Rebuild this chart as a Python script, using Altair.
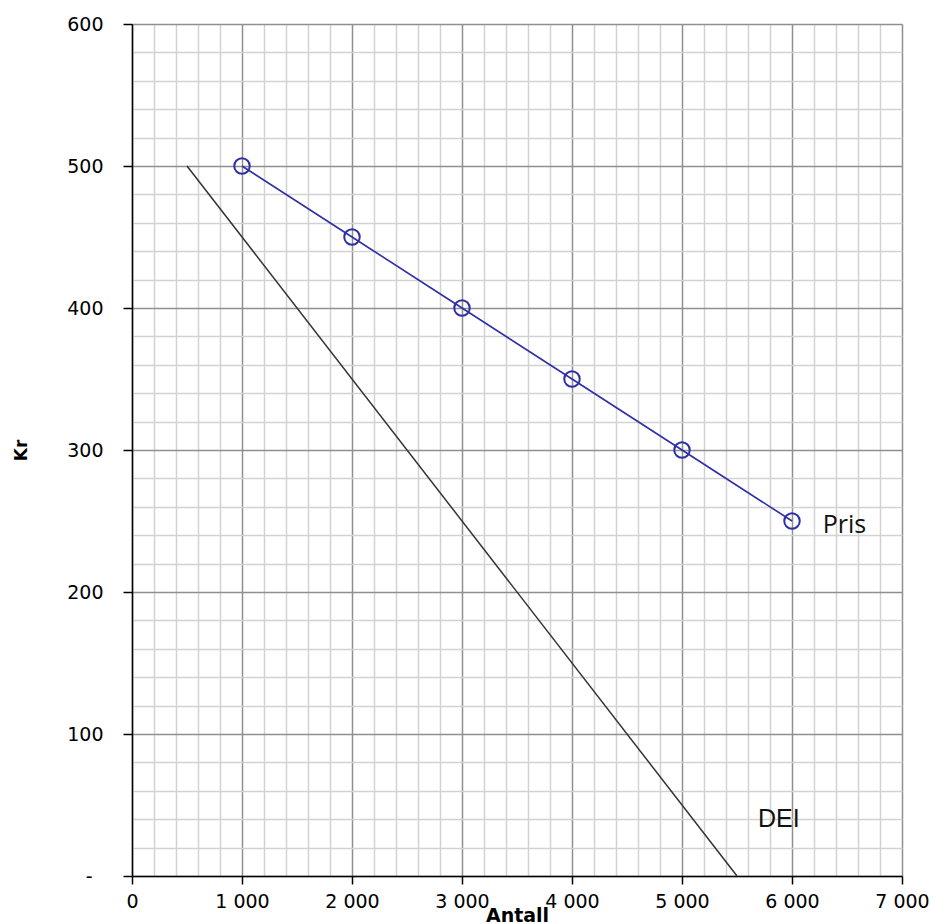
import altair as alt
import pandas as pd

# Data
pris_x = [1000, 2000, 3000, 4000, 5000, 6000]
pris_y = [500, 450, 400, 350, 300, 250]
dei_x = [500, 5500]
dei_y = [500, 0]
label_text = ["Pris", "DEI"]
label_x = [6280, 5690]
label_y = [247, 40]

x_ticks = list(range(0, 7001, 200))
y_ticks = list(range(0, 601, 20))

pris_df = pd.DataFrame({"x": pris_x, "y": pris_y})
dei_df = pd.DataFrame({"x": dei_x, "y": dei_y})
pris_lab = pd.DataFrame({"x": label_x[:1], "y": label_y[:1], "t": label_text[:1]})
dei_lab = pd.DataFrame({"x": label_x[1:], "y": label_y[1:], "t": label_text[1:]})

FONT = "DejaVu Sans"

x_axis = alt.Axis(
    values=x_ticks,
    grid=True,
    gridColor={"condition": {"test": "datum.value % 1000 === 0", "value": "#8f8f8f"}, "value": "#d2d2d2"},
    gridWidth=1.5,
    tickColor={"condition": {"test": "datum.value % 1000 === 0", "value": "#000000"}, "value": "transparent"},
    tickSize=8,
    tickWidth=1.5,
    domainColor="#000000",
    domainWidth=1.5,
    labelExpr="datum.value % 1000 === 0 ? replace(format(datum.value, ','), ',', ' ') : ''",
    labelFont=FONT,
    labelFontSize=19,
    labelColor="#000000",
    labelPadding=8,
    labelFlush=False,
    labelOverlap=False,
    title="Antall",
    titleFont=FONT,
    titleFontSize=19,
    titleFontWeight="bold",
    titleColor="#000000",
    titleBaseline="alphabetic",
    titleY=45,
)

y_axis = alt.Axis(
    values=y_ticks,
    grid=True,
    gridColor={"condition": {"test": "datum.value % 100 === 0", "value": "#8f8f8f"}, "value": "#d2d2d2"},
    gridWidth=1.5,
    tickColor={"condition": {"test": "datum.value % 100 === 0", "value": "#000000"}, "value": "transparent"},
    tickSize=9,
    tickWidth=1.5,
    domainColor="#000000",
    domainWidth=1.5,
    labelExpr="datum.value === 0 ? '-' : (datum.value % 100 === 0 ? datum.label : '')",
    labelFont=FONT,
    labelFontSize=19,
    labelColor="#000000",
    labelPadding={"condition": {"test": "datum.value === 0", "value": 31}, "value": 20},
    labelFlush=False,
    labelOverlap=False,
    title="Kr",
    titleFont=FONT,
    titleFontSize=17,
    titleFontWeight="bold",
    titleColor="#000000",
    titleAngle=270,
    titleAlign="center",
    titleBaseline="middle",
    titleX=-111,
    titleY=426,
)

X = alt.X("x:Q", scale=alt.Scale(domain=[0, 7000], nice=False, zero=False), axis=x_axis)
Y = alt.Y("y:Q", scale=alt.Scale(domain=[0, 600], nice=False, zero=False), axis=y_axis)

dei_line = alt.Chart(dei_df).mark_line(color="#333333", strokeWidth=1.5).encode(x=X, y=Y)
pris_line = alt.Chart(pris_df).mark_line(color="#2e2ea6", strokeWidth=1.6).encode(x=X, y=Y)
pris_pts = alt.Chart(pris_df).mark_point(
    shape="circle", filled=False, size=240, color="#2e2ea6", strokeWidth=2, opacity=1
).encode(x=X, y=Y)
pris_text = alt.Chart(pris_lab).mark_text(
    align="left", baseline="middle", font="Open Sans", fontSize=25, color="#111111"
).encode(x=X, y=Y, text="t:N")
dei_text = alt.Chart(dei_lab).mark_text(
    align="left", baseline="middle", font="Liberation Sans", fontSize=25, color="#111111"
).encode(x=X, y=Y, text="t:N")

chart = (
    alt.layer(dei_line, pris_line, pris_pts, pris_text, dei_text)
    .properties(
        width=770,
        height=852,
        autosize=alt.AutoSizeParams(type="none"),
        padding={"left": 132, "top": 24, "right": 32, "bottom": 48},
    )
    .configure_view(stroke=None)
    .configure(background="white")
)

chart.save("out.html", embed_options={"renderer": "svg", "actions": False})
